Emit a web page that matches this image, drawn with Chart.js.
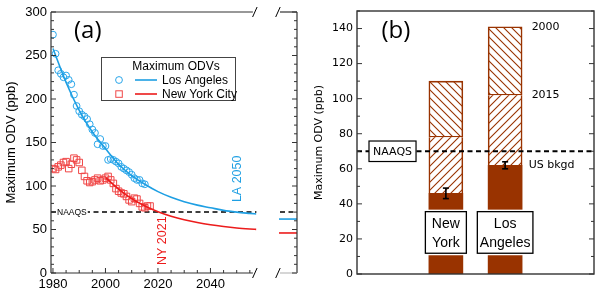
<!DOCTYPE html>
<html><head><meta charset="utf-8">
<script src="https://cdn.jsdelivr.net/npm/chart.js@4.4.1/dist/chart.umd.min.js"></script>
<style>
html,body{margin:0;padding:0;background:#fff;}
#wrap{position:relative;width:600px;height:295px;overflow:hidden;background:#fff;}
canvas{position:absolute;top:0;}
</style></head><body>
<div id="wrap">
<canvas id="ca" width="262" height="295" style="left:0"></canvas>
<canvas id="cx" width="38" height="295" style="left:262px"></canvas>
<canvas id="cb" width="300" height="295" style="left:300px"></canvas>
</div>
<script>
// ---------- Panel (a) data ----------
const laYears = [1980,1981,1982,1983,1984,1985,1986,1987,1988,1989,1990,1991,1992,1993,1994,1995,1996,1997,1998,1999,2000,2001,2002,2003,2004,2005,2006,2007,2008,2009,2010,2011,2012,2013,2014,2015];
const laODV   = [274,252,233,229,225,227,222,217,205,192,186,182,180,177,171,165,161,148,154,146,146,130,131,130,128,126,122,120,118,116,113,109,107,107,103,102];
const nyYears = [1980,1981,1982,1983,1984,1985,1986,1987,1988,1989,1990,1991,1992,1993,1994,1995,1996,1997,1998,1999,2000,2001,2002,2003,2004,2005,2006,2007,2008,2009,2010,2011,2012,2013,2014,2015,2016,2017];
const nyODV   = [120,119,122,124,127,128,120,125,132,130,127,118,111,106,104,105,107,109,106,107,109,111,107,103,97,94,92,91,88,84,82,86,85,80,76,75,77,77];
const laFitYears = [1980,1985,1990,1995,2000,2005,2010,2015,2020,2025,2030,2035,2040,2045,2050,2055,2057.5];
const laFit      = [258,219,187,162,143,125,112,102,93.5,87,82,78,75,72,70,68.5,67.8];
const nyFitYears = [2000,2005,2010,2015,2020,2025,2030,2035,2040,2045,2050,2055,2057.5];
const nyFit      = [110,96.5,85.5,77,70.5,65.3,61.2,58,55.4,53.4,51.8,50.6,50.1];
const naaqs = 70;
const nyAttainYear = 2021;
const laAttainYear = 2050;
const aXTicks = [1980,2000,2020,2040];
const aYTicks = [0,50,100,150,200,250,300];

// ---------- Panel (b) data ----------
const cities   = ['New York','Los Angeles'];
const bkgd     = [46,62];      // US background
const bkgdErr  = [3,2];
const odv2015  = [78,102];
const odv2000  = [110,141];
const bYTicks  = [0,20,40,60,80,100,120,140];

// ---------- styles ----------
const BLUE = '#1e9fe3', BLUEPT = '#2aa6ea', RED = '#ec1c1c', REDPT = '#f04646';
const BROWN = '#993300', AX = '#333333';
const SANS = '"Liberation Sans", Arial, sans-serif';
const DV = '"DejaVu Sans", Verdana, sans-serif';
Chart.defaults.font.family = SANS;
Chart.defaults.color = '#000';

const pts = (xs, ys) => xs.map((x, i) => ({x, y: ys[i]}));
function line(ctx, x1, y1, x2, y2) { ctx.beginPath(); ctx.moveTo(x1, y1); ctx.lineTo(x2, y2); ctx.stroke(); }
function slash(ctx, cx, cy) { line(ctx, cx - 2.3, cy + 5, cx + 2.2, cy - 5); }
function vTicks(ctx, scale, x, dir, from, to, minor, major, lmin, lmaj) {
  for (let v = from; v <= to + 1e-9; v += minor) {
    const yy = scale.getPixelForValue(v);
    const isMaj = Math.abs(v / major - Math.round(v / major)) < 1e-6;
    line(ctx, x, yy, x + dir * (isMaj ? lmaj : lmin), yy);
  }
}

// ---------- Panel (a) main ----------
const plugA = {
  id: 'plugA',
  beforeDatasetsDraw(chart) {
    const {ctx, chartArea: a, scales: {y}} = chart;
    const yn = y.getPixelForValue(naaqs);
    ctx.save();
    ctx.strokeStyle = '#000'; ctx.lineWidth = 1.5; ctx.setLineDash([5, 3.5]);
    line(ctx, a.left, yn, a.right, yn);
    ctx.setLineDash([]);
    ctx.font = '8.5px ' + SANS;
    const tw = ctx.measureText('NAAQS').width;
    ctx.fillStyle = '#fff'; ctx.fillRect(a.left + 5, yn - 5, tw + 2, 10);
    ctx.fillStyle = '#000'; ctx.textBaseline = 'middle'; ctx.textAlign = 'left';
    ctx.fillText('NAAQS', a.left + 6, yn + 0.5);
    ctx.restore();
  },
  afterDraw(chart) {
    const {ctx, chartArea: a, scales: {x, y}} = chart;
    ctx.save();
    ctx.strokeStyle = AX; ctx.lineWidth = 1.2;
    const brk = a.right - 1.5;
    line(ctx, a.left, a.top, a.left, a.bottom);
    line(ctx, a.left, a.bottom, brk - 2, a.bottom);
    line(ctx, a.left, a.top, brk - 2, a.top);
    ctx.strokeStyle = '#000'; ctx.lineWidth = 1;
    slash(ctx, brk, a.top); slash(ctx, brk, a.bottom);
    ctx.strokeStyle = AX; ctx.lineWidth = 1;
    vTicks(ctx, y, a.left, 1, 0, 300, 10, 50, 3, 5);
    for (let v = 1980; v <= 2055; v += 5) {
      const xp = x.getPixelForValue(v);
      line(ctx, xp, a.bottom, xp, a.bottom - (v % 20 === 0 ? 5 : 3));
    }
    // legend
    const ds = chart.data.datasets;
    ctx.fillStyle = '#fff'; ctx.fillRect(101.5, 57.5, 134, 43);
    ctx.strokeStyle = '#444'; ctx.lineWidth = 1; ctx.strokeRect(101.5, 57.5, 134, 43);
    ctx.font = '12px ' + SANS; ctx.fillStyle = '#000';
    ctx.textAlign = 'center'; ctx.textBaseline = 'middle';
    ctx.fillText('Maximum ODVs', 176, 66.5);
    ctx.textAlign = 'left';
    ctx.strokeStyle = BLUEPT; ctx.beginPath(); ctx.arc(119, 80, 3.4, 0, Math.PI * 2); ctx.stroke();
    ctx.strokeStyle = BLUE; ctx.lineWidth = 1.6; line(ctx, 135, 80, 157, 80);
    ctx.fillText(ds[2].label, 162, 80.5);
    ctx.strokeStyle = REDPT; ctx.lineWidth = 1; ctx.strokeRect(115.8, 90.8, 6.5, 6.5);
    ctx.strokeStyle = RED; ctx.lineWidth = 1.6; line(ctx, 135, 94, 157, 94);
    ctx.fillText(ds[3].label, 162, 94.5);
    // rotated attainment labels
    ctx.font = '12.5px ' + SANS; ctx.textBaseline = 'middle'; ctx.textAlign = 'left';
    ctx.save(); ctx.translate(x.getPixelForValue(nyAttainYear) + 2, a.bottom - 8); ctx.rotate(-Math.PI / 2);
    ctx.fillStyle = RED; ctx.fillText('NY ' + nyAttainYear, 0, 0); ctx.restore();
    ctx.save(); ctx.translate(x.getPixelForValue(laAttainYear) + 1, y.getPixelForValue(81.5)); ctx.rotate(-Math.PI / 2);
    ctx.fillStyle = BLUE; ctx.fillText('LA ' + laAttainYear, 0, 0); ctx.restore();
    // panel letter
    ctx.font = '24px "Open Sans", ' + SANS; ctx.fillStyle = '#000'; ctx.textAlign = 'left';
    ctx.fillText('(a)', 74, 31);
    ctx.restore();
  }
};

new Chart(document.getElementById('ca'), {
  type: 'line',
  data: {datasets: [
    {label: 'LA fit', data: pts(laFitYears, laFit), borderColor: BLUE, borderWidth: 1.6, pointRadius: 0, cubicInterpolationMode: 'monotone', fill: false},
    {label: 'NY fit', data: pts(nyFitYears, nyFit), borderColor: RED, borderWidth: 1.6, pointRadius: 0, cubicInterpolationMode: 'monotone', fill: false},
    {label: 'Los Angeles', data: pts(laYears, laODV), showLine: false, pointStyle: 'circle', pointRadius: 3.4, pointBorderWidth: 1, pointBorderColor: BLUEPT, pointBackgroundColor: 'rgba(0,0,0,0)', borderColor: BLUEPT},
    {label: 'New York City', data: pts(nyYears, nyODV), showLine: false, pointStyle: 'rect', pointRadius: 4.6, pointBorderWidth: 1, pointBorderColor: REDPT, pointBackgroundColor: 'rgba(0,0,0,0)', borderColor: REDPT}
  ]},
  options: {
    responsive: false, animation: false, devicePixelRatio: 1,
    layout: {padding: {top: 12, right: 4, left: 0, bottom: 0}},
    plugins: {legend: {display: false}, tooltip: {enabled: false}},
    scales: {
      x: {type: 'linear', min: 1979.25, max: 2057.5,
          grid: {display: false, drawTicks: false}, border: {display: false},
          ticks: {font: {size: 13}, padding: 4, maxRotation: 0, color: '#000', callback: v => String(v)},
          afterBuildTicks: s => { s.ticks = aXTicks.map(v => ({value: v})); },
          afterFit: s => { s.height = 22; }},
      y: {type: 'linear', min: 0, max: 300,
          grid: {display: false, drawTicks: false}, border: {display: false},
          ticks: {font: {size: 13}, padding: 4, color: '#000', callback: v => String(v)},
          afterBuildTicks: s => { s.ticks = aYTicks.map(v => ({value: v})); },
          afterFit: s => { s.width = 51; },
          title: {display: true, text: 'Maximum ODV (ppb)', font: {size: 13}, color: '#000', padding: {top: 4, bottom: 0}}}
    }
  },
  plugins: [plugA]
});

// ---------- Panel (a) long-term extension (beyond axis break) ----------
const plugX = {
  id: 'plugX',
  beforeDatasetsDraw(chart) {
    const {ctx, chartArea: a, scales: {y}} = chart;
    ctx.save(); ctx.strokeStyle = '#000'; ctx.lineWidth = 1.5; ctx.setLineDash([5, 3.5]);
    const yn = y.getPixelForValue(naaqs);
    line(ctx, a.left + 1, yn, a.right, yn);
    ctx.restore();
  },
  afterDraw(chart) {
    const {ctx, chartArea: a, scales: {y}} = chart;
    ctx.save();
    ctx.strokeStyle = AX; ctx.lineWidth = 1.2;
    line(ctx, a.left + 1, a.top, a.right, a.top);
    line(ctx, a.right, a.top, a.right, a.bottom);
    ctx.strokeStyle = '#bbbbbb';
    line(ctx, a.left + 1, a.bottom, a.right, a.bottom);
    ctx.strokeStyle = '#000'; ctx.lineWidth = 1;
    slash(ctx, a.left - 1, a.top); slash(ctx, a.left - 1, a.bottom);
    ctx.strokeStyle = AX;
    vTicks(ctx, y, a.right, -1, 0, 300, 10, 50, 3, 5);
    ctx.restore();
  }
};
new Chart(document.getElementById('cx'), {
  type: 'line',
  data: {datasets: [
    {data: [{x: 0, y: bkgd[1]}, {x: 1, y: bkgd[1]}], borderColor: BLUE, borderWidth: 1.6, pointRadius: 0},
    {data: [{x: 0, y: bkgd[0]}, {x: 1, y: bkgd[0]}], borderColor: RED, borderWidth: 1.6, pointRadius: 0}
  ]},
  options: {
    responsive: false, animation: false, devicePixelRatio: 1,
    layout: {padding: {left: 17, right: 3, top: 12, bottom: 22}},
    plugins: {legend: {display: false}, tooltip: {enabled: false}},
    scales: {x: {type: 'linear', min: 0, max: 1, display: false}, y: {type: 'linear', min: 0, max: 300, display: false}}
  },
  plugins: [plugX]
});

// ---------- Panel (b) ----------
function hatch(dir) {
  const s = 8, c = document.createElement('canvas'); c.width = s; c.height = s;
  const g = c.getContext('2d');
  g.fillStyle = '#fff'; g.fillRect(0, 0, s, s);
  g.strokeStyle = BROWN; g.lineWidth = 1.1;
  g.beginPath();
  if (dir === '/') {
    g.moveTo(0, s); g.lineTo(s, 0); g.moveTo(-1, 1); g.lineTo(1, -1); g.moveTo(s - 1, s + 1); g.lineTo(s + 1, s - 1);
  } else {
    g.moveTo(0, 0); g.lineTo(s, s); g.moveTo(-1, s - 1); g.lineTo(1, s + 1); g.moveTo(s - 1, -1); g.lineTo(s + 1, 1);
  }
  g.stroke();
  return g.createPattern(c, 'repeat');
}
const pad = arr => [null, ...arr, null];

const plugB = {
  id: 'plugB',
  afterDatasetsDraw(chart) {
    const {ctx, chartArea: a, scales: {x, y}} = chart;
    ctx.save();
    // NAAQS line
    const yn = y.getPixelForValue(naaqs);
    ctx.strokeStyle = '#000'; ctx.lineWidth = 2; ctx.setLineDash([5, 3.5]);
    line(ctx, a.left, yn, a.right, yn);
    ctx.setLineDash([]);
    ctx.font = '11px ' + DV;
    const tw = ctx.measureText('NAAQS').width;
    const bx = a.left + 12, bw = tw + 8, bh = 20.5;
    ctx.fillStyle = '#fff'; ctx.fillRect(bx, yn - bh / 2, bw, bh);
    ctx.strokeStyle = '#000'; ctx.lineWidth = 1.2; ctx.strokeRect(bx, yn - bh / 2, bw, bh);
    ctx.fillStyle = '#000'; ctx.textAlign = 'center'; ctx.textBaseline = 'middle';
    ctx.fillText('NAAQS', bx + bw / 2, yn + 0.5);
    // error bars on background
    ctx.lineWidth = 1.6;
    cities.forEach((c, i) => {
      const xc = x.getPixelForValue(i + 1);
      const y1 = y.getPixelForValue(bkgd[i] + bkgdErr[i]), y2 = y.getPixelForValue(bkgd[i] - bkgdErr[i]);
      line(ctx, xc, y1, xc, y2); line(ctx, xc - 3, y1, xc + 3, y1); line(ctx, xc - 3, y2, xc + 3, y2);
    });
    // city label boxes
    ctx.font = '14px ' + SANS;
    cities.forEach((c, i) => {
      const xc = x.getPixelForValue(i + 1);
      const words = c.split(' ');
      const w = Math.max(Math.max(...words.map(t => ctx.measureText(t).width)) + 5, 41);
      const yc = y.getPixelForValue(23.7), h = 41.6;
      ctx.fillStyle = '#fff'; ctx.fillRect(xc - w / 2 - 2, yc - h / 2 - 2, w + 4, h + 4);
      ctx.strokeStyle = '#000'; ctx.lineWidth = 1.3; ctx.strokeRect(xc - w / 2, yc - h / 2, w, h);
      ctx.fillStyle = '#000'; ctx.textAlign = 'center'; ctx.textBaseline = 'alphabetic';
      ctx.fillText(words[0], xc, yc - 4.2);
      ctx.fillText(words[1], xc, yc + 14.2);
    });
    // year / background labels beside LA bar
    const li = cities.length - 1, xr = x.getPixelForValue(li + 1) + 17;
    ctx.font = '11px ' + DV; ctx.textAlign = 'left'; ctx.textBaseline = 'middle';
    ctx.fillText(chart.data.datasets[2].label, xr + 9.5, y.getPixelForValue(odv2000[li]));
    ctx.fillText(chart.data.datasets[1].label, xr + 9.5, y.getPixelForValue(odv2015[li]));
    ctx.fillText(chart.data.datasets[0].label, xr + 6.5, y.getPixelForValue(bkgd[li]));
    ctx.restore();
  },
  afterDraw(chart) {
    const {ctx, chartArea: a, scales: {y}} = chart;
    ctx.save();
    ctx.strokeStyle = AX; ctx.lineWidth = 1.4;
    ctx.strokeRect(a.left, a.top, a.right - a.left, a.bottom - a.top);
    ctx.lineWidth = 1;
    vTicks(ctx, y, a.left, 1, 0, 150, 10, 20, 3, 5);
    vTicks(ctx, y, a.right, -1, 0, 150, 10, 20, 3, 5);
    ctx.font = '24px "Open Sans", ' + SANS; ctx.fillStyle = '#000'; ctx.textAlign = 'left'; ctx.textBaseline = 'middle';
    ctx.fillText('(b)', 81.5, 31);
    ctx.restore();
  }
};

new Chart(document.getElementById('cb'), {
  type: 'bar',
  data: {
    labels: pad(cities).map(c => c || ''),
    datasets: [
      {label: 'US bkgd', data: pad(bkgd.map(v => [0, v])), backgroundColor: BROWN, borderWidth: 0},
      {label: '2015', data: pad(bkgd.map((v, i) => [v, odv2015[i]])), backgroundColor: hatch('/'), borderColor: BROWN,
       borderWidth: {top: 0, bottom: 0, left: 1.6, right: 1.6}, borderSkipped: false},
      {label: '2000', data: pad(odv2015.map((v, i) => [v, odv2000[i]])), backgroundColor: hatch('\\'), borderColor: BROWN,
       borderWidth: 1.6, borderSkipped: false}
    ]
  },
  options: {
    responsive: false, animation: false, devicePixelRatio: 1,
    datasets: {bar: {grouped: false, barThickness: 34}},
    layout: {padding: {top: 11, right: 6, left: 0, bottom: 21}},
    plugins: {legend: {display: false}, tooltip: {enabled: false}},
    scales: {
      x: {display: false},
      y: {type: 'linear', min: 0, max: 150,
          grid: {display: false, drawTicks: false}, border: {display: false},
          ticks: {font: {size: 11, family: DV}, padding: 4, color: '#000'},
          afterBuildTicks: s => { s.ticks = bYTicks.map(v => ({value: v})); },
          afterFit: s => { s.width = 57; },
          title: {display: true, text: 'Maximum ODV (ppb)', font: {size: 11, family: DV}, color: '#000', padding: {top: 13, bottom: 0}}}
    }
  },
  plugins: [plugB]
});
</script>
</body></html>
